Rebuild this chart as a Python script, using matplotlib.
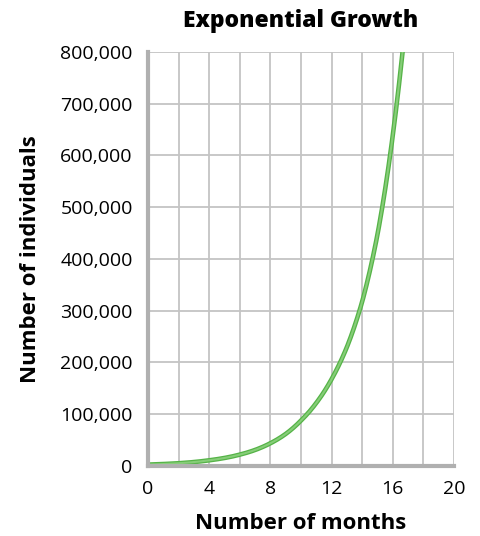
import numpy as np
import matplotlib
matplotlib.use("Agg")
import matplotlib.pyplot as plt
from matplotlib.ticker import FuncFormatter, MultipleLocator

# values, one per month
months = [0, 1, 2, 3, 4, 5, 6, 7, 8, 9, 10, 11, 12, 13, 14, 15, 16, 17]
individuals = [2700, 3800, 5300, 7600, 11000, 15500, 22000, 31000, 44000,
               62000, 88000, 122000, 168000, 230000, 318000, 448000, 640000, 910000]

title = "Exponential Growth"
xlabel = "Number of months"
ylabel = "Number of individuals"

plt.rcParams['font.family'] = ['Open Sans', 'DejaVu Sans']

fig = plt.figure(figsize=(4.81, 5.36), dpi=100)
ax = fig.add_axes([0.3077, 0.1306, 0.6363, 0.7724])

# smooth drawing between monthly points (log-linear)
t = np.linspace(months[0], months[-1], 400)
y = np.exp(np.interp(t, months, np.log(individuals)))
ax.plot(t, y, color="#55b347", lw=3.3, solid_capstyle="butt", zorder=3)
ax.plot(t, y, color="#86cd78", lw=1.5, solid_capstyle="butt", zorder=4)

ax.set_xlim(0, 20)
ax.set_ylim(0, 800000)
ax.xaxis.set_major_locator(MultipleLocator(4))
ax.xaxis.set_minor_locator(MultipleLocator(2))
ax.yaxis.set_major_locator(MultipleLocator(100000))
ax.yaxis.set_major_formatter(FuncFormatter(lambda v, p: f"{int(v):,}"))

ax.grid(True, which="both", color="#c4c4c4", lw=1.3, zorder=0)
ax.set_axisbelow(True)
ax.tick_params(which="both", length=0, labelsize=14, colors="black")
ax.tick_params(axis="x", pad=10)
ax.tick_params(axis="y", pad=11)

for s in ["top", "right"]:
    ax.spines[s].set_visible(False)
for s in ["left", "bottom"]:
    ax.spines[s].set_color("#b0b0b0")
    ax.spines[s].set_linewidth(3)
    ax.spines[s].set_zorder(5)

ax.set_title(title, fontsize=16.5, fontweight="heavy", pad=18)
ax.set_xlabel(xlabel, fontsize=16, fontweight="bold", labelpad=11)
ax.set_ylabel(ylabel, fontsize=16, fontweight="bold", labelpad=14)

fig.savefig("out.png", dpi=100, facecolor="white")
